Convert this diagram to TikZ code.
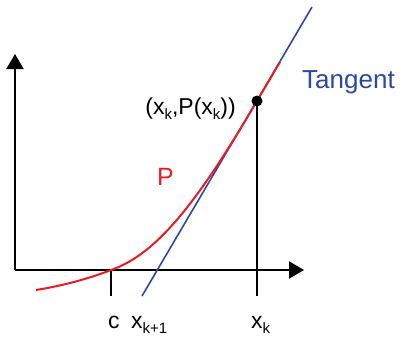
\documentclass[tikz,border=0pt]{standalone}
\usepackage{fontspec}
\setmainfont{Liberation Sans}
\usetikzlibrary{arrows.meta}
\definecolor{pred}{RGB}{232,28,36}
\definecolor{tblue}{RGB}{44,72,162}
\newcommand\sbs[1]{\raisebox{-0.22em}{\fontsize{15}{15}\selectfont #1}}
\begin{document}
\begin{tikzpicture}[x=1pt,y=-1pt,
  axis/.style={line width=2pt,black,-{Triangle[length=15pt,width=17pt]}},
  blk/.style={line width=2pt,black},
  curve/.style={line width=2pt,pred},
  tline/.style={line width=1.6pt,tblue},
  lbl/.style={inner sep=0pt,font=\fontsize{23}{23}\selectfont}]
\useasboundingbox (0,0) rectangle (401,338);
\coordinate (O) at (15,270);
\coordinate (Ytip) at (15,54);
\coordinate (Xtip) at (304,270);
\coordinate (C) at (111,270);
\coordinate (Cb) at (111,296);
\coordinate (Pk) at (257,101);
\coordinate (Xb) at (257,296);
\coordinate (T0) at (142,296);
\coordinate (T1) at (312,7);
\coordinate (R0) at (36,290);
\coordinate (R1) at (280,62);
\draw[axis] (O) -- (Ytip);
\draw[axis] (O) -- (Xtip);
\draw[blk] (C) -- (Cb);
\draw[blk] (Pk) -- (Xb);
\draw[tline] (T0) -- (T1);
\draw[curve] (R0) .. controls (61,286) and (88,279) .. (C)
  .. controls (158,254) and (200,198) .. (Pk) -- (R1);
\fill[black] (Pk) circle (5.5);
\node[lbl,anchor=base east] (pl) at (236,114) {(x\sbs{k},P(x\sbs{k}))};
\node[lbl,anchor=base west,text=tblue,font=\fontsize{26}{26}\selectfont] (tg) at (302,88) {Tangent};
\node[lbl,anchor=base west,text=pred,font=\fontsize{25}{25}\selectfont] (pp) at (157,185) {P};
\node[lbl,anchor=base west] (cl) at (108,328) {c};
\node[lbl,anchor=base west] (xk1) at (131,328) {x\sbs{k+1}};
\node[lbl,anchor=base west] (xk) at (251,328) {x\sbs{k}};
\end{tikzpicture}
\end{document}
